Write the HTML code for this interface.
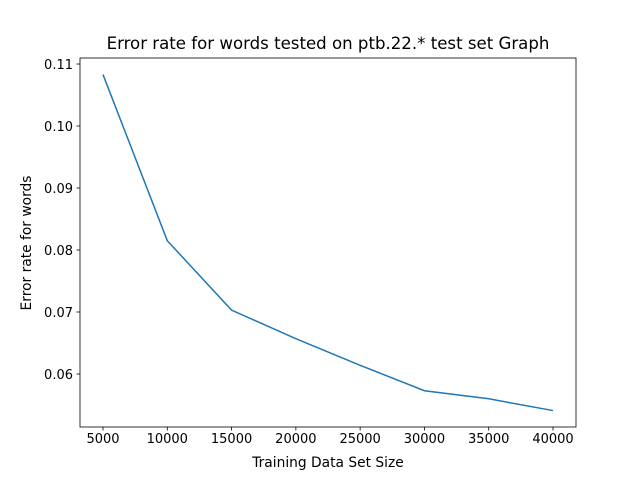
<!DOCTYPE html>
<html><head><meta charset="utf-8"><style>
html,body{margin:0;padding:0;background:#fff}
svg text{font-family:"DejaVu Sans","Liberation Sans",sans-serif;fill:#000}
</style></head><body>
<svg id="chart" width="640" height="480">
<rect width="640" height="480" fill="#fff"/>
<g id="g"></g>
</svg>
<script>
const sizes=[5000,10000,15000,20000,25000,30000,35000,40000];
const errors=[0.1083,0.0815,0.0703,0.0657,0.0614,0.0573,0.0560,0.0541];
const xTicks=[5000,10000,15000,20000,25000,30000,35000,40000];
const yTicks=[0.06,0.07,0.08,0.09,0.10,0.11];
const yLabels=["0.06","0.07","0.08","0.09","0.10","0.11"];
const L=80,R=576,T=58,B=427;
const xmin=3211,xmax=41789,ymin=0.05145,ymax=0.11097;
const sx=v=>L+(v-xmin)/(xmax-xmin)*(R-L);
const sy=v=>B-(v-ymin)/(ymax-ymin)*(B-T);
const ns="http://www.w3.org/2000/svg",g=document.getElementById('g');
function mk(t,a,txt){const e=document.createElementNS(ns,t);for(const k in a)e.setAttribute(k,a[k]);if(txt!==undefined)e.textContent=txt;g.appendChild(e);return e;}
let d=sizes.map((v,i)=>(i?'L':'M')+sx(v)+','+sy(errors[i])).join(' ');
const ln=mk('path',{d:d,fill:'none',stroke:'#1f77b4','stroke-width':1.5});


const fr=mk('rect',{x:L,y:T,width:R-L,height:B-T,fill:'none',stroke:'#000','stroke-width':0.8});


xTicks.forEach(v=>{const x=sx(v);mk('line',{x1:x,x2:x,y1:B,y2:B+3.5,stroke:'#000','stroke-width':0.8});
const t=mk('text',{x:x,y:B+16,'text-anchor':'middle','font-size':13},String(v));

});
yTicks.forEach((v,i)=>{const y=sy(v);mk('line',{x1:L-3.5,x2:L,y1:y,y2:y,stroke:'#000','stroke-width':0.8});
const t=mk('text',{x:L-7,y:y+5,'text-anchor':'end','font-size':13},yLabels[i]);

});
const tt=mk('text',{x:328,y:49,'text-anchor':'middle','font-size':16.6},'Error rate for words tested on ptb.22.* test set Graph');


const xt=mk('text',{x:328,y:467,'text-anchor':'middle','font-size':13.8},'Training Data Set Size');


const yt=mk('text',{x:31,y:243,'text-anchor':'middle','font-size':13.8,transform:'rotate(-90 31 243)'},'Error rate for words');


</script>
</body></html>
